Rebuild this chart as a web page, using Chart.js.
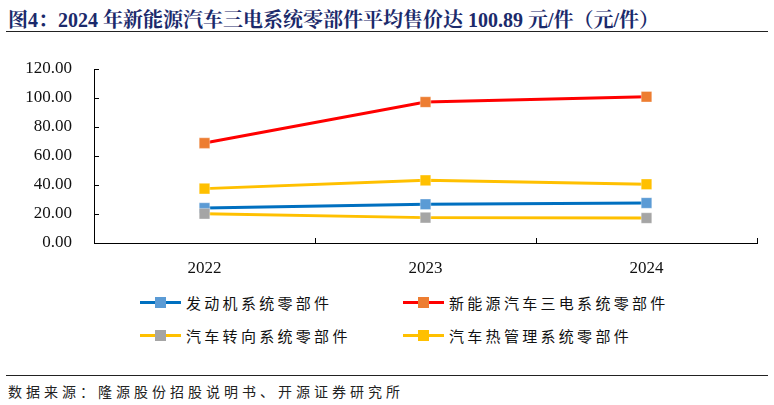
<!DOCTYPE html>
<html>
<head>
<meta charset="utf-8">
<script src="https://cdn.jsdelivr.net/npm/chart.js@4.4.1/dist/chart.umd.min.js"></script>
<style>
  body{margin:0;background:#fff;}
  #wrap{position:relative;width:774px;height:405px;overflow:hidden;background:#fff;}
  #title{position:absolute;left:8px;top:4px;font:bold 20px 'Liberation Serif','Noto Serif CJK SC','Noto Sans CJK SC',serif;color:#1b2a6b;white-space:nowrap;}
  #titleLine{position:absolute;left:6px;width:762px;top:31px;height:0;border-top:1.5px solid #222;}
  #chartBox{position:absolute;left:0;top:0;width:774px;height:290px;}
  .lg{position:absolute;font:15px 'Noto Sans CJK SC',sans-serif;color:#111;letter-spacing:3.3px;white-space:nowrap;}
  .lg .ln{position:absolute;left:0;top:50%;width:41px;height:3px;margin-top:-1.5px;}
  .lg .sq{position:absolute;left:15px;top:50%;width:11px;height:11px;margin-top:-5.5px;}
  .lg .tx{position:absolute;left:46px;top:50%;transform:translateY(-50%);}
  #footLine{position:absolute;left:6px;width:762px;top:375px;height:0;border-top:1.5px solid #222;}
  #src{position:absolute;left:8px;top:381px;font:14px 'Noto Sans CJK SC',sans-serif;color:#222;letter-spacing:4px;white-space:nowrap;}
</style>
</head>
<body>
<div id="wrap">
  <div id="title">图4：2024 年新能源汽车三电系统零部件平均售价达 100.89 元/件（元/件）</div>
  <div id="titleLine"></div>
  <div id="chartBox"><canvas id="chart" width="774" height="290"></canvas></div>
  <div id="legend"></div>
  <div id="footLine"></div>
  <div id="src">数据来源：隆源股份招股说明书、开源证券研究所</div>
</div>
<script>
(function(){
  // data
  const years = ['2022','2023','2024'];
  const seriesNames = ['发动机系统零部件','新能源汽车三电系统零部件','汽车转向系统零部件','汽车热管理系统零部件'];
  const engine = [24.1, 26.7, 27.6];
  const nevThreeElec = [68.9, 97.2, 100.89];
  const steering = [20.2, 17.5, 17.2];
  const thermal = [37.5, 43.2, 40.5];
  const lineColors = ['#0070c0','#ff0000','#ffc000','#ffc000'];
  const markerColors = ['#5b9bd5','#ed7d31','#a5a5a5','#ffc000'];
  const yTicks = [0,20,40,60,80,100,120];

  const values = [engine, nevThreeElec, steering, thermal];
  const datasets = values.map((v,i)=>({
    label: seriesNames[i],
    data: v,
    borderColor: lineColors[i],
    backgroundColor: markerColors[i],
    pointBackgroundColor: markerColors[i],
    pointBorderColor: 'rgba(255,255,255,0.35)',
    pointBorderWidth: 1,
    pointStyle: 'rect',
    pointRadius: 7.5,
    borderWidth: 3,
    tension: 0,
    order: 10 - i
  }));

  // small inward tick marks on both axes
  const tickMarks = {
    id: 'tickMarks',
    afterDraw(c){
      const ctx = c.ctx, xs = c.scales.x, ys = c.scales.y;
      ctx.save();
      ctx.strokeStyle = '#000';
      ctx.lineWidth = 1;
      ctx.beginPath();
      yTicks.forEach(v=>{
        const y = Math.round(ys.getPixelForValue(v)) + 0.5;
        ctx.moveTo(xs.left, y); ctx.lineTo(xs.left + 5, y);
      });
      for(let i=0;i<years.length;i++){
        const x = Math.round(xs.getPixelForValue(i + 0.5)) + 0.5;
        ctx.moveTo(x, ys.bottom); ctx.lineTo(x, ys.bottom - 5);
      }
      ctx.stroke();
      ctx.restore();
    }
  };

  const serif = "'Times New Roman','Liberation Serif',serif";
  new Chart(document.getElementById('chart').getContext('2d'), {
    type: 'line',
    data: { labels: years, datasets },
    options: {
      responsive: false,
      animation: false,
      layout: { padding: { top: 69, right: 17, left: 0, bottom: 0 } },
      plugins: { legend: { display: false }, tooltip: { enabled: false } },
      scales: {
        x: {
          offset: true,
          grid: { display: false },
          border: { display: true, color: '#000', width: 1 },
          ticks: { color: '#111', font: { family: serif, size: 17 }, padding: 7, maxRotation: 0 },
          afterFit: (s)=>{ s.height = 47; }
        },
        y: {
          min: 0, max: 120,
          afterBuildTicks: (s)=>{ s.ticks = yTicks.map(v=>({value:v})); },
          grid: { display: false },
          border: { display: true, color: '#000', width: 1 },
          ticks: { color: '#111', font: { family: serif, size: 17 }, padding: 14,
                   callback: (v)=> Number(v).toFixed(2) },
          afterFit: (s)=>{ s.width = 94; }
        }
      }
    },
    plugins: [tickMarks]
  });

  // legend, two columns like the original
  const legendPos = [[140,302],[403,302],[140,335],[403,335]];
  const box = document.getElementById('legend');
  seriesNames.forEach((name,i)=>{
    const d = document.createElement('div');
    d.className = 'lg';
    d.style.left = legendPos[i][0] + 'px';
    d.style.top = (legendPos[i][1] - 10) + 'px';
    d.style.height = '20px';
    d.innerHTML = `<div class="ln" style="background:${lineColors[i]}"></div>`+
                  `<div class="sq" style="background:${markerColors[i]}"></div>`+
                  `<div class="tx">${name}</div>`;
    box.appendChild(d);
  });
})();
</script>
</body>
</html>
